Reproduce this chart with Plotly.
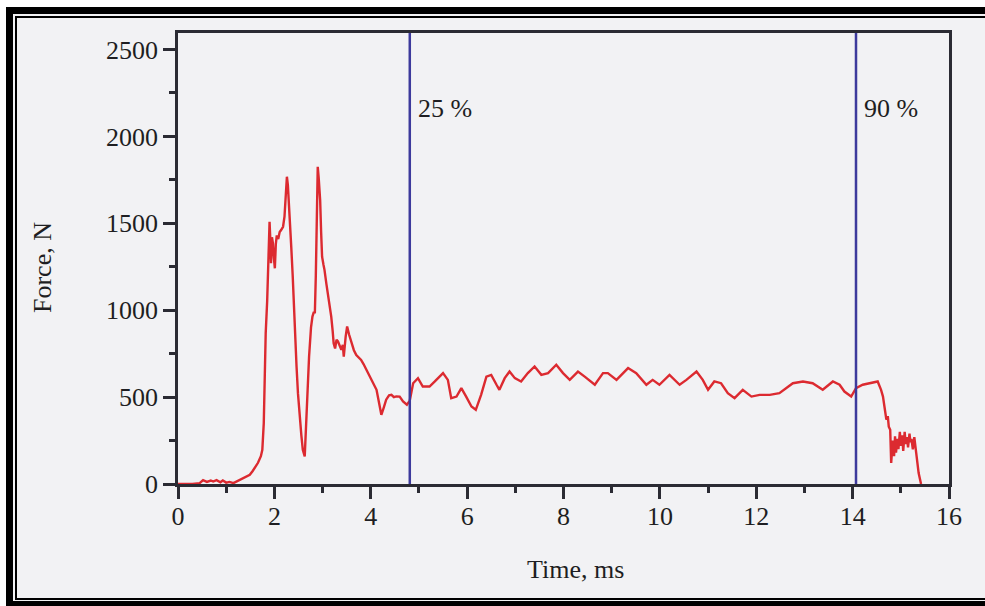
import plotly.graph_objects as go

# ---- data ----
time_ms = [0.00, 0.30, 0.45, 0.52, 0.60, 0.68, 0.73, 0.80, 0.88, 0.93, 1.00, 1.07, 1.15, 1.21, 1.30,
           1.35, 1.42, 1.49, 1.55, 1.59, 1.66, 1.72, 1.75, 1.78, 1.82, 1.85, 1.87, 1.89, 1.90, 1.92,
           1.93, 1.95, 1.97, 1.99, 2.01, 2.03, 2.05, 2.08, 2.11, 2.14, 2.18, 2.21, 2.24, 2.26, 2.28,
           2.30, 2.33, 2.35, 2.38, 2.40, 2.43, 2.46, 2.49, 2.52, 2.56, 2.59, 2.63, 2.66, 2.69, 2.72,
           2.76, 2.79, 2.82, 2.84, 2.86, 2.87, 2.89, 2.90, 2.92, 2.95, 2.97, 2.99, 3.02, 3.04, 3.08,
           3.11, 3.15, 3.18, 3.21, 3.23, 3.26, 3.29, 3.32, 3.36, 3.39, 3.42, 3.44, 3.48, 3.51, 3.55,
           3.60, 3.65, 3.70, 3.75, 3.80, 3.85, 3.91, 3.96, 4.01, 4.06, 4.12, 4.17, 4.22, 4.27, 4.32,
           4.38, 4.43, 4.48, 4.53, 4.60, 4.67, 4.75, 4.81, 4.88, 4.98, 5.08, 5.22, 5.33, 5.50, 5.60,
           5.67, 5.78, 5.88, 5.98, 6.09, 6.18, 6.29, 6.40, 6.50, 6.61, 6.67, 6.78, 6.88, 6.99, 7.12,
           7.26, 7.40, 7.54, 7.68, 7.85, 7.99, 8.13, 8.30, 8.44, 8.65, 8.82, 8.92, 9.10, 9.34, 9.51,
           9.72, 9.85, 9.99, 10.20, 10.41, 10.55, 10.76, 10.89, 11.00, 11.13, 11.27, 11.41, 11.55, 11.72, 11.90,
           12.07, 12.28, 12.48, 12.62, 12.76, 12.97, 13.17, 13.38, 13.59, 13.73, 13.83, 13.97, 14.07, 14.21, 14.35,
           14.52, 14.59, 14.63, 14.66, 14.70, 14.73, 14.75, 14.78, 14.80, 14.82, 14.83, 14.86, 14.88, 14.90, 14.93,
           14.95, 14.98, 15.00, 15.03, 15.05, 15.08, 15.10, 15.13, 15.15, 15.18, 15.20, 15.22, 15.25, 15.28, 15.32,
           15.37, 15.42]
force_n = [0, 0, 5, 22, 12, 20, 14, 22, 10, 20, 8, 12, 5, 14, 25,
           34, 42, 53, 75, 92, 122, 160, 197, 350, 868, 1050, 1193, 1400, 1509, 1380,
           1270, 1420, 1385, 1300, 1241, 1380, 1430, 1410, 1450, 1461, 1480, 1538, 1700, 1768, 1720,
           1634, 1500, 1366, 1200, 1040, 900, 676, 520, 389, 280, 197, 159, 350, 550, 733,
           900, 963, 990, 982, 1200, 1443, 1700, 1825, 1760, 1634, 1450, 1308, 1260, 1232, 1150,
           1098, 1030, 963, 880, 810, 780, 830, 820, 790, 772, 800, 733, 850, 906, 860,
           810, 770, 742, 730, 714, 690, 657, 630, 599, 570, 542, 470, 398, 440, 485,
           510, 513, 500, 504, 503, 475, 456, 480, 580, 609, 561, 561, 590, 638, 599,
           494, 503, 552, 503, 446, 427, 513, 618, 628, 571, 542, 609, 647, 609, 590,
           638, 676, 628, 638, 686, 638, 599, 647, 618, 571, 638, 638, 599, 667, 638,
           571, 599, 571, 628, 571, 599, 647, 599, 542, 590, 580, 523, 494, 542, 503,
           513, 513, 523, 552, 580, 590, 580, 542, 590, 571, 532, 503, 552, 571, 580,
           590, 542, 503, 446, 370, 390, 330, 312, 121, 200, 250, 160, 274, 180, 260,
           200, 300, 220, 280, 190, 300, 230, 270, 210, 290, 240, 260, 200, 270, 178,
           63, 0]

marker_times = [4.81, 14.07]
marker_labels = ["25 %", "90 %"]
marker_label_force = 2160

x_ticks = [0, 2, 4, 6, 8, 10, 12, 14, 16]
y_ticks = [0, 500, 1000, 1500, 2000, 2500]
x_range = [0, 16]
y_range = [0, 2595]

# ---- layout geometry ----
W, H = 985, 606
ML, MR, MT, MB = 178, 36, 33, 122
PW, PH = W - ML - MR, H - MT - MB


def px(x):
    return (x - ML) / PW


def py(y):
    return (H - MB - y) / PH


FONT = "Liberation Serif"
AXC = "#2b2b33"
BG = "#f2f2f4"
TXT = "#1e1e22"

fig = go.Figure()
fig.add_trace(go.Scatter(x=time_ms, y=force_n, mode="lines",
                         line=dict(color="#dc2a30", width=2.4),
                         showlegend=False, hoverinfo="skip"))

shapes = []
# page background inside the scanned frame
shapes.append(dict(type="rect", xref="paper", yref="paper", layer="below",
                   x0=px(6), x1=px(1000), y0=py(7), y1=py(620),
                   fillcolor=BG, line=dict(width=0)))
# vertical percentage markers
for t in marker_times:
    shapes.append(dict(type="line", xref="x", yref="paper", x0=t, x1=t, y0=0, y1=1,
                       line=dict(color="#3d3a9c", width=2.5)))
# double frame of the scan
shapes.append(dict(type="rect", xref="paper", yref="paper",
                   x0=px(9.5), x1=px(1000), y0=py(10.5), y1=py(604.5),
                   line=dict(color="black", width=7)))
shapes.append(dict(type="rect", xref="paper", yref="paper",
                   x0=px(16), x1=px(995), y0=py(17), y1=py(599),
                   line=dict(color="black", width=2)))

annotations = []
for t, lab in zip(marker_times, marker_labels):
    annotations.append(dict(x=t, y=marker_label_force, xref="x", yref="y", text=lab,
                            showarrow=False, xanchor="left", yanchor="middle", xshift=6,
                            font=dict(family=FONT, size=26, color=TXT)))
annotations.append(dict(x=px(575), y=py(569), xref="paper", yref="paper", text="Time, ms",
                        showarrow=False, xanchor="center", yanchor="middle",
                        font=dict(family=FONT, size=26, color=TXT)))
annotations.append(dict(x=px(42), y=py(268), xref="paper", yref="paper", text="Force, N",
                        showarrow=False, xanchor="center", yanchor="middle", textangle=-90,
                        font=dict(family=FONT, size=26, color=TXT)))

axis_common = dict(showgrid=False, zeroline=False, showline=True, linecolor=AXC, linewidth=2.5,
                   mirror=True, ticks="outside", ticklen=12, tickwidth=2.5, tickcolor=AXC,
                   tickfont=dict(family=FONT, size=26, color=TXT))

fig.update_layout(
    width=W, height=H,
    margin=dict(l=ML, r=MR, t=MT, b=MB, pad=0),
    paper_bgcolor="white", plot_bgcolor="rgba(0,0,0,0)",
    shapes=shapes, annotations=annotations,
    xaxis=dict(range=x_range, tickvals=x_ticks, ticklabelstandoff=-5,
               minor=dict(ticks="outside", ticklen=6, tickwidth=2.5, tickcolor=AXC, dtick=1, tick0=0),
               **axis_common),
    yaxis=dict(range=y_range, tickvals=y_ticks, ticklabelstandoff=0,
               minor=dict(ticks="outside", ticklen=6, tickwidth=2.5, tickcolor=AXC, dtick=250, tick0=0),
               **axis_common),
)

fig.write_html("out.html")
